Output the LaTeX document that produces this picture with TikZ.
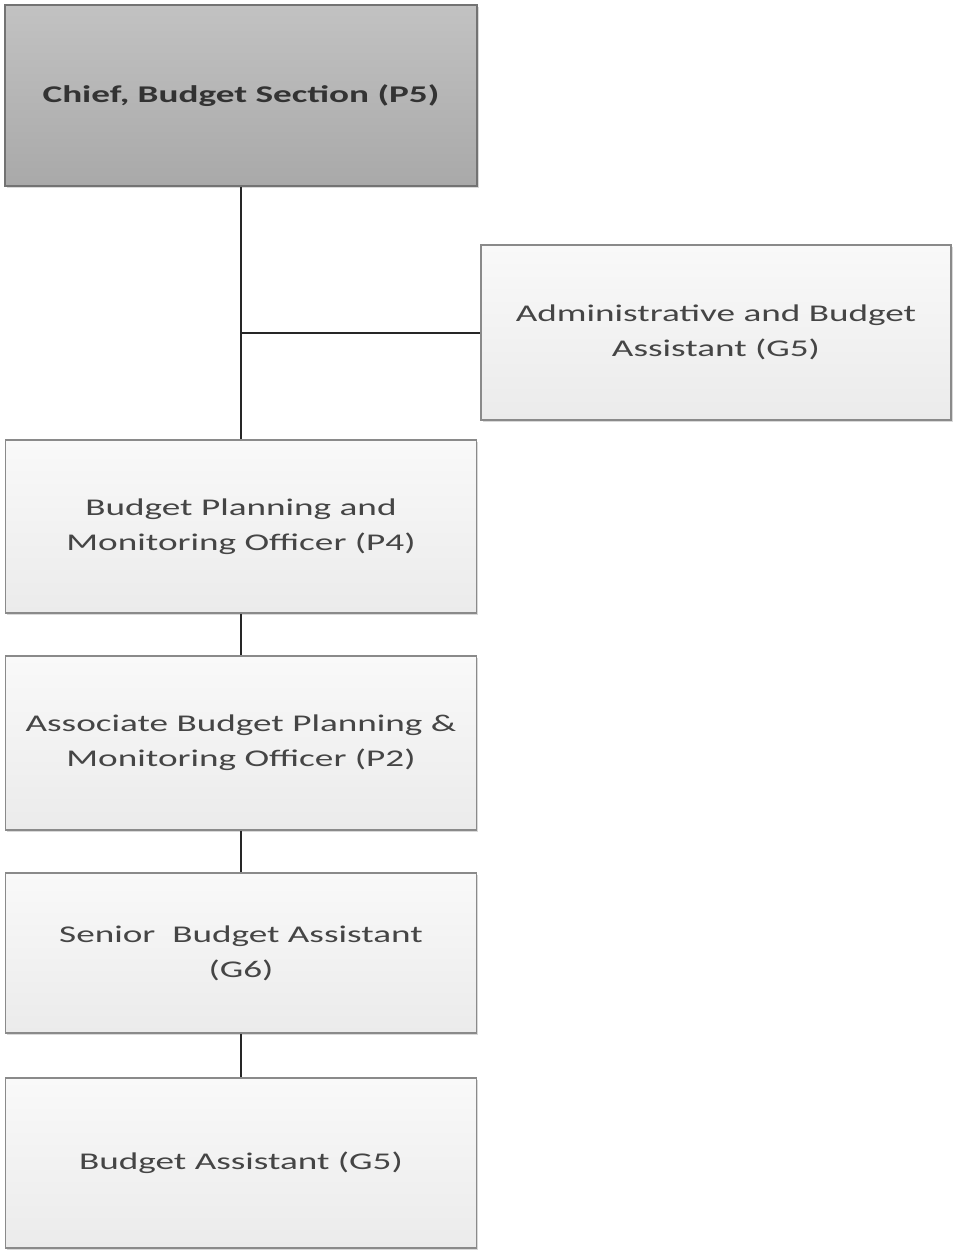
\documentclass[tikz,border=0pt]{standalone}
\usepackage{fontspec}
\setmainfont{Carlito}
\usetikzlibrary{shadows}
\definecolor{boxline}{HTML}{8A8A8A}
\definecolor{boxtext}{HTML}{454545}
\definecolor{chieftop}{HTML}{C2C2C2}
\definecolor{chiefbot}{HTML}{A9A9A9}
\definecolor{lighttop}{HTML}{F9F9F9}
\definecolor{lightbot}{HTML}{EBEBEB}
\newcommand{\wide}[1]{\scalebox{1.55}[1]{#1}}
\tikzset{
  post/.style={draw=boxline, line width=1.6pt, rectangle, inner sep=0pt,
    top color=lighttop, bottom color=lightbot, text=boxtext,
    align=center, font=\fontsize{24}{35}\selectfont,
    drop shadow={shadow xshift=1.5pt, shadow yshift=-2pt, fill=black!25, opacity=.6}},
  chief/.style={post, top color=chieftop, bottom color=chiefbot, text=black!80,
    draw=black!55, font=\bfseries\fontsize{24}{35}\selectfont},
  link/.style={draw=black!85, line width=2pt},
}
\begin{document}
\begin{tikzpicture}[x=1pt, y=-1pt]
  \useasboundingbox (0,0) rectangle (953,1251);
  % boxes, centred on the trunk line at x = 241
  \node[chief, minimum width=472pt, minimum height=181pt] (p5) at (241,95.5)
    {\wide{Chief, Budget Section (P5)}};
  \node[post, minimum width=470pt, minimum height=175pt] (g5a) at (716,332.5)
    {\wide{Administrative and Budget}\\\wide{Assistant (G5)}};
  \node[post, minimum width=471pt, minimum height=173pt] (p4) at (241,526.5)
    {\wide{Budget Planning and}\\\wide{Monitoring Officer (P4)}};
  \node[post, minimum width=471pt, minimum height=174pt] (p2) at (241,743)
    {\wide{Associate Budget Planning \&}\\\wide{Monitoring Officer (P2)}};
  \node[post, minimum width=471pt, minimum height=160pt] (g6) at (241,953)
    {\wide{Senior\ \ Budget Assistant}\\\wide{(G6)}};
  \node[post, minimum width=471pt, minimum height=170pt] (g5b) at (241,1163)
    {\wide{Budget Assistant (G5)}};

  % reporting lines
  \coordinate (tee) at (p5.south |- g5a.west);
  \draw[link] (p5.south) -- (tee) -- (p4.north);
  \draw[link] (tee) -- (g5a.west);
  \draw[link] (p4.south) -- (p2.north);
  \draw[link] (p2.south) -- (g6.north);
  \draw[link] (g6.south) -- (g5b.north);
\end{tikzpicture}
\end{document}
